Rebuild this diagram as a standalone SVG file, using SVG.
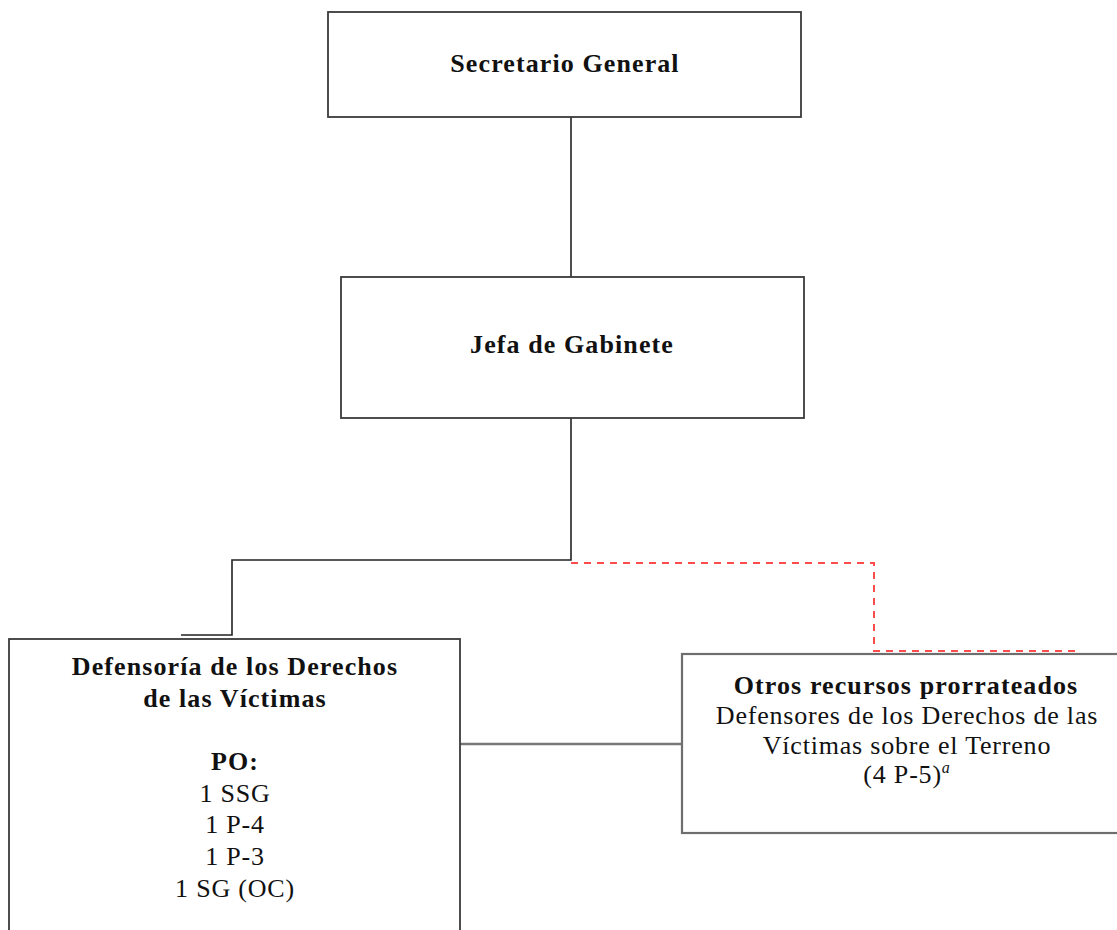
<svg xmlns="http://www.w3.org/2000/svg" width="1117" height="930" viewBox="0 0 1117 930">
<style>
.box{fill:#fff;stroke:#3a3a3a;stroke-width:1.8}
.box2{fill:#fff;stroke:#6e6e6e;stroke-width:2.2}
.t{font-family:"Liberation Serif","Times New Roman",serif;font-size:26px;fill:#111;text-anchor:middle}
.b{font-weight:bold;letter-spacing:1.1px}
.r{letter-spacing:0.8px}
.ln{fill:none;stroke:#222;stroke-width:1.6}
.gr{fill:none;stroke:#777;stroke-width:2.4}
.rd{fill:none;stroke:#ff4d4d;stroke-width:2;stroke-dasharray:7 6}
</style>
<rect width="1117" height="930" fill="#fff"/>
<g id="connectors">
<path class="ln" d="M571,117 V277"/>
<path class="ln" d="M571,418 V560 H232 V635 H181"/>
<path class="rd" d="M571,563 H874 V651 H1077"/>
<path class="gr" d="M460,744 H682"/>
</g>
<g id="n-secretario">
<rect class="box" x="328" y="12" width="473" height="105"/>
<text class="t b" x="565" y="72">Secretario General</text>
</g>
<g id="n-jefa">
<rect class="box" x="341" y="277" width="463" height="141"/>
<text class="t b" x="572" y="353">Jefa de Gabinete</text>
</g>
<g id="n-defensoria">
<rect class="box" x="9" y="639" width="451" height="310"/>
<text class="t b" x="235" y="675">Defensoría de los Derechos</text>
<text class="t b" x="235" y="707">de las Víctimas</text>
<text class="t b" x="235" y="770">PO:</text>
<text class="t r" x="235" y="802">1 SSG</text>
<text class="t r" x="235" y="833">1 P-4</text>
<text class="t r" x="235" y="865">1 P-3</text>
<text class="t r" x="235" y="897">1 SG (OC)</text>
</g>
<g id="n-otros">
<rect class="box2" x="682" y="654" width="450" height="179"/>
<text class="t b" x="906" y="694">Otros recursos prorrateados</text>
<text class="t r" x="907" y="724">Defensores de los Derechos de las</text>
<text class="t r" x="907" y="754">Víctimas sobre el Terreno</text>
<text class="t r" x="907" y="783">(4 P-5)<tspan font-size="16" font-style="italic" dy="-10">a</tspan></text>
</g>
</svg>
